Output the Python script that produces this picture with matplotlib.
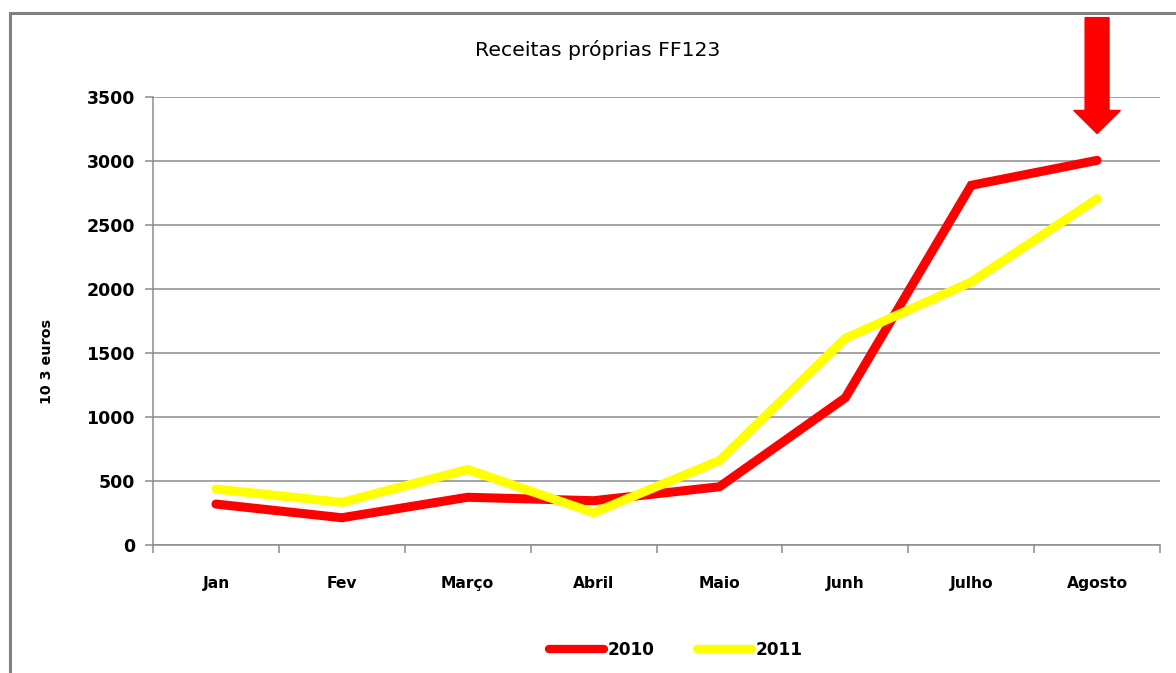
import matplotlib
matplotlib.use("Agg")
import matplotlib.pyplot as plt
from matplotlib.patches import Rectangle, FancyArrow
from matplotlib.lines import Line2D

months = ["Jan", "Fev", "Março", "Abril", "Maio", "Junh", "Julho", "Agosto"]
vals_2010 = [320, 213, 373, 346, 455, 1150, 2810, 3005]
vals_2011 = [437, 333, 590, 252, 660, 1615, 2055, 2705]
series_names = ["2010", "2011"]
yticks = [0, 500, 1000, 1500, 2000, 2500, 3000, 3500]

plt.rcParams['font.family'] = ['DejaVu Sans']

fig = plt.figure(figsize=(11.76, 6.73), dpi=100)
# outer chart frame (cropped at right/bottom)
fig.patches.append(Rectangle((10/1176, -0.1), 1.2, 1 - 13/673 + 0.1,
                             transform=fig.transFigure, fill=False,
                             edgecolor="#808080", linewidth=2.2))

ax = fig.add_axes([153/1176, 1 - 545/673, (1160 - 153)/1176, (545 - 97)/673])
x = list(range(len(months)))
ax.plot(x, vals_2010, color="#ff0000", linewidth=6.5, solid_capstyle="round",
        solid_joinstyle="miter", zorder=3)
ax.plot(x, vals_2011, color="#ffff00", linewidth=6.5, solid_capstyle="round",
        solid_joinstyle="miter", zorder=3)

ax.set_xlim(-0.5, len(months) - 0.5)
ax.set_ylim(0, 3500)
ax.set_yticks(yticks)
ax.set_yticklabels([str(v) for v in yticks], fontsize=12.5, fontweight="bold")
ax.yaxis.grid(True, color="#8c8c8c", linewidth=1.1)
ax.set_axisbelow(True)

# category boundaries as major ticks, labels at centres as minor ticks
ax.set_xticks([i - 0.5 for i in range(len(months) + 1)])
ax.set_xticklabels([])
ax.set_xticks(x, minor=True)
ax.set_xticklabels(months, minor=True, fontsize=11.2, fontweight="bold")
ax.tick_params(axis="x", which="major", length=6, color="#8c8c8c", width=1.1)
ax.tick_params(axis="x", which="minor", length=0, pad=22)
ax.tick_params(axis="y", length=6, color="#8c8c8c", width=1.1, pad=7)

for s in ["top", "right"]:
    ax.spines[s].set_visible(False)
for s in ["left", "bottom"]:
    ax.spines[s].set_color("#8c8c8c")
    ax.spines[s].set_linewidth(1.1)

fig.text(47/1176, 1 - 362/673, "10 3 euros", fontsize=10.3, fontweight="bold",
         rotation=90, ha="center", va="center")
fig.text(598/1176, 1 - 50/673, "Receitas próprias FF123", fontsize=14.7,
         ha="center", va="center")

# red pointer arrow above Agosto
arrow = FancyArrow(7, 4120, 0, -4120 + 3215, width=0.19, head_width=0.37,
                   head_length=180, length_includes_head=True,
                   color="#ff0000", clip_on=False, zorder=5)
ax.add_patch(arrow)

handles = [Line2D([], [], color="#ff0000", linewidth=6, solid_capstyle="round"),
           Line2D([], [], color="#ffff00", linewidth=6, solid_capstyle="round")]
fig.legend(handles, series_names, loc="center", bbox_to_anchor=(676/1176, 1 - 650/673),
           ncol=2, frameon=False, prop={"weight": "bold", "size": 12.2},
           handlelength=3.25, handletextpad=0.2, columnspacing=2.5)

fig.savefig("out.png", dpi=100)
